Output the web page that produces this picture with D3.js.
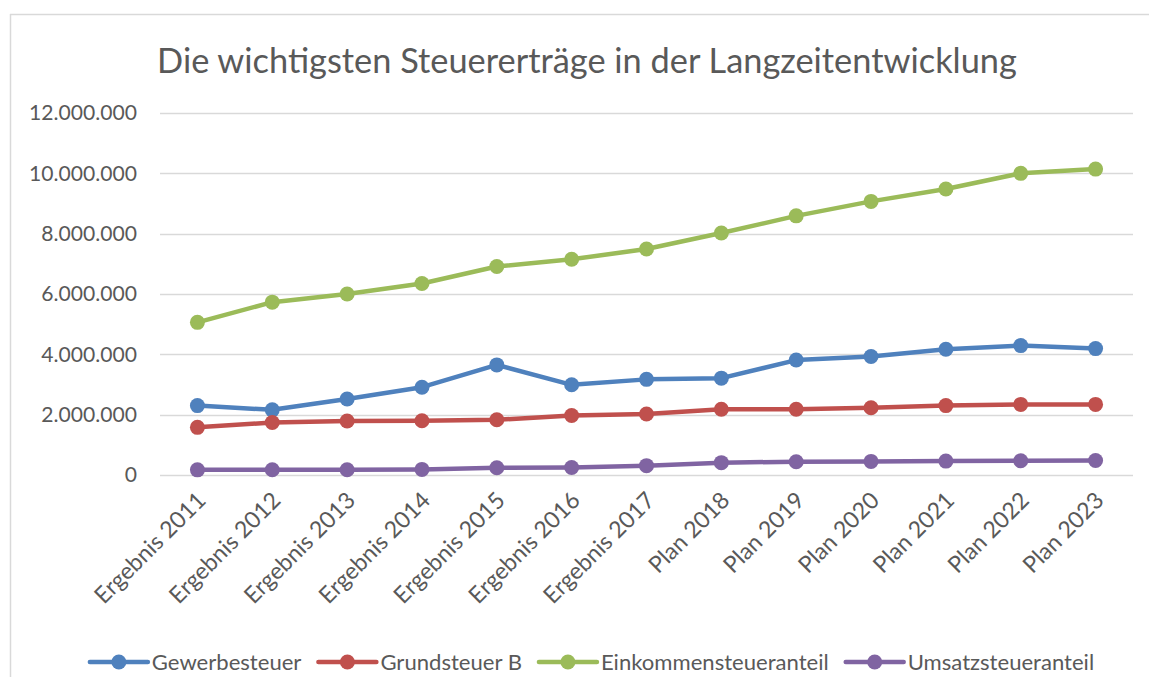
<!DOCTYPE html>
<html><head><meta charset="utf-8">
<script src="https://cdn.jsdelivr.net/npm/d3@7"></script>
<style>body{margin:0;background:#fff}svg{display:block}</style>
</head><body>
<svg id="c" width="1149" height="677"></svg>
<script>
const categories = ["Ergebnis 2011","Ergebnis 2012","Ergebnis 2013","Ergebnis 2014","Ergebnis 2015","Ergebnis 2016","Ergebnis 2017","Plan 2018","Plan 2019","Plan 2020","Plan 2021","Plan 2022","Plan 2023"];
const gewerbesteuer = [2300000,2160000,2520000,2910000,3650000,2990000,3170000,3210000,3810000,3930000,4170000,4290000,4190000];
const grundsteuerB = [1580000,1740000,1790000,1800000,1830000,1970000,2020000,2180000,2180000,2230000,2300000,2340000,2340000];
const einkommensteueranteil = [5060000,5730000,6000000,6350000,6910000,7150000,7490000,8020000,8590000,9070000,9480000,10000000,10140000];
const umsatzsteueranteil = [170000,175000,175000,185000,240000,250000,310000,410000,440000,450000,460000,470000,480000];
const yTicks = [0,2000000,4000000,6000000,8000000,10000000,12000000];
const seriesNames = ["Gewerbesteuer","Grundsteuer B","Einkommensteueranteil","Umsatzsteueranteil"];
const seriesColors = ["#4F81BD","#C0504D","#9BBB59","#8064A2"];
const seriesData = [gewerbesteuer, grundsteuerB, einkommensteueranteil, umsatzsteueranteil];
const title = "Die wichtigsten Steuererträge in der Langzeitentwicklung";

const FONT = "Lato, 'Open Sans', sans-serif";
const TXT = "#595959";
const svg = d3.select("#c");

// frame (top and left edges visible)
svg.append("line").attr("x1",10).attr("x2",1149).attr("y1",14.5).attr("y2",14.5).attr("stroke","#D9D9D9").attr("stroke-width",1.5);
svg.append("line").attr("x1",10.5).attr("x2",10.5).attr("y1",14).attr("y2",677).attr("stroke","#D9D9D9").attr("stroke-width",1.5);

const x = d3.scaleBand().domain(categories).range([160,1133]).padding(0);
const y = d3.scaleLinear().domain([0,12000000]).range([475,113]);
const loc = d3.formatLocale({decimal:",",thousands:".",grouping:[3],currency:["","€"]});
const fmt = loc.format(",d");

function fit(sel, target){
  const w = sel.node().getComputedTextLength();
  const fs = parseFloat(sel.attr("font-size"));
  sel.attr("font-size", fs*target/w);
  return fs*target/w;
}

// title
const t = svg.append("text").attr("x",587).attr("y",73).attr("text-anchor","middle")
  .attr("font-family",FONT).attr("font-size",32).attr("fill",TXT).text(title);
fit(t, 860);

// gridlines
svg.append("g").selectAll("line").data(yTicks).join("line")
  .attr("x1",160).attr("x2",1133).attr("y1",d=>Math.round(y(d))+0.5).attr("y2",d=>Math.round(y(d))+0.5)
  .attr("stroke","#D9D9D9").attr("stroke-width",1.5);

// y axis labels
const yAxis = svg.append("g").attr("transform","translate(145,0)")
  .call(d3.axisLeft(y).tickValues(yTicks).tickFormat(fmt).tickSize(0).tickPadding(8));
yAxis.select(".domain").remove();
yAxis.selectAll("text").attr("font-family",FONT).attr("fill",TXT).attr("font-size",20);
const yl = yAxis.selectAll("text").filter(d=>d===12000000);
const yfs = fit(yl, 108);
yAxis.selectAll("text").attr("font-size",yfs);

// x axis labels
const xAxis = svg.append("g").attr("transform","translate(0,475)")
  .call(d3.axisBottom(x).tickSize(0).tickPadding(0));
xAxis.select(".domain").remove();
xAxis.selectAll("text").attr("font-family",FONT).attr("fill",TXT).attr("font-size",20)
  .attr("text-anchor","end").attr("dy","0.35em")
  .attr("transform","translate(4,21) rotate(-45)").attr("y",0).attr("x",0);
const xl = xAxis.selectAll("text").filter(d=>d==="Ergebnis 2011");
const xfs = fit(xl, 146);
xAxis.selectAll("text").attr("font-size",xfs);

// lines
const line = d3.line().x((d,i)=>x(categories[i])+x.bandwidth()/2).y(d=>y(d));
seriesData.forEach((s,k)=>{
  const g = svg.append("g");
  g.append("path").datum(s).attr("d",line).attr("fill","none")
    .attr("stroke",seriesColors[k]).attr("stroke-width",4.5).attr("stroke-linejoin","round").attr("stroke-linecap","round");
  g.selectAll("circle").data(s).join("circle")
    .attr("cx",(d,i)=>x(categories[i])+x.bandwidth()/2).attr("cy",d=>y(d)).attr("r",7.5)
    .attr("fill",seriesColors[k]);
});

// legend
const lg = svg.append("g");
let cx = 0;
const items = [];
seriesNames.forEach((n,k)=>{
  const it = lg.append("g");
  it.append("line").attr("x1",0).attr("x2",58).attr("y1",0).attr("y2",0)
    .attr("stroke",seriesColors[k]).attr("stroke-width",4.5).attr("stroke-linecap","round");
  it.append("circle").attr("cx",29).attr("cy",0).attr("r",7.5).attr("fill",seriesColors[k]);
  const tx = it.append("text").attr("x",62).attr("y",0).attr("dy","0.35em")
    .attr("font-family",FONT).attr("font-size",20).attr("fill",TXT).text(n);
  items.push({it,tx});
});
const lfs = fit(items[2].tx, 228);
items.forEach(o=>o.tx.attr("font-size",lfs));
const widths = items.map(o=>62+o.tx.node().getComputedTextLength());
const gap = 17;
const total = d3.sum(widths)+gap*(widths.length-1);
cx = 592 - total/2;
items.forEach((o,k)=>{ o.it.attr("transform",`translate(${cx},662)`); cx += widths[k]+gap; });
</script>
</body></html>
